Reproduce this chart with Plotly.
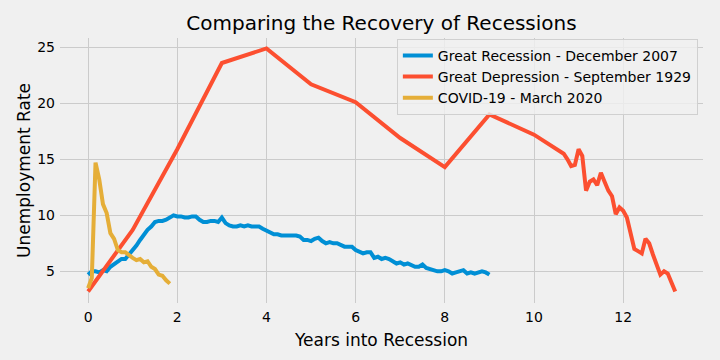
import plotly.graph_objects as go

# ---- Data ----
# Great Recession - monthly, starting at year 0
gr_values = [
    4.7, 5.0,
    5.0, 4.9, 5.1, 5.0, 5.4, 5.6, 5.8, 6.1, 6.1, 6.5, 6.8, 7.3,
    7.8, 8.3, 8.7, 9.0, 9.4, 9.5, 9.5, 9.6, 9.8, 10.0, 9.9, 9.9,
    9.8, 9.8, 9.9, 9.9, 9.6, 9.4, 9.4, 9.5, 9.5, 9.4, 9.8, 9.3,
    9.1, 9.0, 9.0, 9.1, 9.0, 9.1, 9.0, 9.0, 9.0, 8.8, 8.6, 8.5,
    8.3, 8.3, 8.2, 8.2, 8.2, 8.2, 8.2, 8.1, 7.8, 7.8, 7.7, 7.9,
    8.0, 7.7, 7.5, 7.6, 7.5, 7.5, 7.3, 7.2, 7.2, 7.2, 6.9, 6.7,
    6.6, 6.7, 6.7, 6.2, 6.3, 6.1, 6.2, 6.1, 5.9, 5.7, 5.8, 5.6,
    5.7, 5.5, 5.4, 5.4, 5.6, 5.3, 5.2, 5.1, 5.0, 5.0, 5.1, 5.0,
    4.8, 4.9, 5.0, 5.1, 4.8, 4.9, 4.8, 4.9, 5.0, 4.9, 4.7,
]
gr_years = [i / 12 for i in range(len(gr_values))]

# Great Depression - yearly points, then monthly tail
gd_years = [0, 1, 2, 3, 4, 5, 6, 7, 8, 9, 10,
            10.667, 10.75, 10.833, 10.917, 11.0, 11.083, 11.167, 11.25,
            11.333, 11.417, 11.5, 11.583, 11.667, 11.75, 11.833, 11.917,
            12.0, 12.083, 12.167, 12.25, 12.333, 12.417, 12.5, 12.583,
            12.667, 12.75, 12.833, 12.917, 13.0, 13.083, 13.167]
gd_values = [3.2, 8.7, 15.9, 23.6, 24.9, 21.7, 20.1, 16.9, 14.3, 19.0, 17.2,
             15.5, 15.0, 14.4, 14.5, 15.9, 15.3, 12.2, 13.0,
             13.2, 12.7, 13.8, 13.0, 12.2, 11.7, 10.1, 10.7,
             10.4, 9.8, 8.4, 7.0, 6.8, 6.6, 7.9, 7.5,
             6.5, 5.6, 4.7, 5.0, 4.8, 4.0, 3.2]

# COVID-19 - monthly
cv_values = [3.5, 4.4, 14.7, 13.2, 11.0, 10.2, 8.4, 7.9, 6.9, 6.7, 6.7, 6.4,
             6.2, 6.0, 6.1, 5.8, 5.9, 5.4, 5.2, 4.7, 4.6, 4.2, 3.9]
cv_years = [i / 12 for i in range(len(cv_values))]

series_names = ["Great Recession - December 2007",
                "Great Depression - September 1929",
                "COVID-19 - March 2020"]
series_colors = ["#008fd5", "#fc4f30", "#e5ae38"]

x_ticks = [0, 2, 4, 6, 8, 10, 12]
y_ticks = [5, 10, 15, 20, 25]

FONT = "DejaVu Sans"

fig = go.Figure()
for name, xs, ys, col in zip(series_names,
                             [gr_years, gd_years, cv_years],
                             [gr_values, gd_values, cv_values],
                             series_colors):
    fig.add_trace(go.Scatter(x=xs, y=ys, mode="lines", name=name,
                             line=dict(color=col, width=4)))

fig.update_layout(
    width=720, height=360,
    paper_bgcolor="#f0f0f0", plot_bgcolor="#f0f0f0",
    margin=dict(l=60, r=17, t=38, b=57, autoexpand=False),
    font=dict(family=FONT, size=14, color="#000000"),
    title=dict(text="Comparing the Recovery of Recessions",
               font=dict(family=FONT, size=20, color="#000000"),
               x=0.5, xref="paper", xanchor="center",
               y=1 - 23 / 360, yref="container", yanchor="middle",
               automargin=False),
    showlegend=True,
    legend=dict(x=0.992, y=0.997, xanchor="right", yanchor="top",
                bgcolor="rgba(240,240,240,0.8)", bordercolor="#d0d0d0",
                borderwidth=1, font=dict(family=FONT, size=14, color="#000000"),
                tracegroupgap=0),
)

fig.update_xaxes(range=[-0.63, 13.79], tickvals=x_ticks,
                 showgrid=True, gridcolor="#cbcbcb", gridwidth=1,
                 zeroline=False, showline=False, ticks="",
                 ticklabelstandoff=4, automargin=False,
                 title=dict(text="Years into Recession",
                            font=dict(family=FONT, size=17, color="#000000"),
                            standoff=10))
fig.update_yaxes(range=[2.17, 25.83], tickvals=y_ticks,
                 showgrid=True, gridcolor="#cbcbcb", gridwidth=1,
                 zeroline=False, showline=False, ticks="",
                 ticklabelstandoff=4, automargin=False,
                 title=dict(text="Unemployment Rate",
                            font=dict(family=FONT, size=17, color="#000000"),
                            standoff=2))

fig.write_html("out.html",
               config={"displayModeBar": False},
               post_script="document.body.style.margin='0';")
